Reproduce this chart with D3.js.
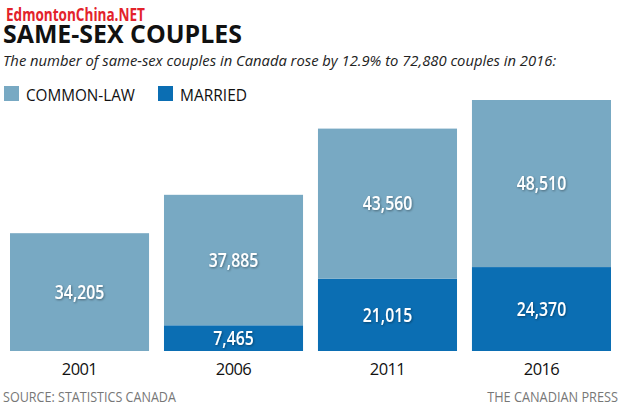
<!DOCTYPE html>
<html><head><meta charset="utf-8">
<script src="https://cdn.jsdelivr.net/npm/d3@7"></script>
<style>
body{margin:0;background:#fff;}
svg{display:block;}
</style></head>
<body>
<svg id="c" width="620" height="417"></svg>
<script>
const years = ["2001","2006","2011","2016"];
const married = [0, 7465, 21015, 24370];
const commonLaw = [34205, 37885, 43560, 48510];
const seriesNames = ["COMMON-LAW","MARRIED"];
const colors = {commonLaw:"#78a9c3", married:"#0b6eb3"};

const svg = d3.select("#c");
const defs = svg.append("defs");
const f = defs.append("filter").attr("id","sh").attr("x","-20%").attr("y","-30%").attr("width","140%").attr("height","160%");
f.append("feDropShadow").attr("dx",1).attr("dy",1).attr("stdDeviation",1.2).attr("flood-color","#000").attr("flood-opacity",0.4);

const FONT = "Open Sans, sans-serif";

function txt(parent, x, y, s, opts){
  const g = parent.append("g").attr("transform",`translate(${x},${y}) scale(${opts.sx||1},1)`);
  const t = g.append("text").text(s)
    .attr("font-family",opts.family||FONT)
    .attr("font-size",opts.size)
    .attr("font-weight",opts.weight||"normal")
    .attr("font-style",opts.style||"normal")
    .attr("fill",opts.fill||"#111")
    .attr("text-anchor",opts.anchor||"start");
  if(opts.filter) t.attr("filter",opts.filter);
  if(opts.fitWidth){
    const w = t.node().getComputedTextLength();
    g.attr("transform",`translate(${x},${y}) scale(${opts.fitWidth / w},1)`);
  }
  return t;
}

const x = d3.scaleBand().domain(years).range([10,611]).paddingInner(0.097).paddingOuter(0);
const y = d3.scaleLinear().domain([0,72880]).range([351,100]);

// watermark
txt(svg,6,21,"EdmontonChina.NET",{size:17,weight:"bold",fill:"#e3222b",fitWidth:139});
// title & subtitle
txt(svg,3,42.5,"SAME-SEX COUPLES",{size:25,weight:"bold",fill:"#111",fitWidth:239});
txt(svg,3,66,"The number of same-sex couples in Canada rose by 12.9% to 72,880 couples in 2016:",
  {size:15,style:"italic",fill:"#222",fitWidth:554});

// legend
const leg = [{n:seriesNames[0],c:colors.commonLaw,x:4,w:109},{n:seriesNames[1],c:colors.married,x:158,w:67}];
leg.forEach(l=>{
  svg.append("rect").attr("x",l.x).attr("y",86).attr("width",15).attr("height",15).attr("fill",l.c);
  txt(svg,l.x+22,100.5,l.n,{size:16,fill:"#111",fitWidth:l.w});
});

const data = years.map((yr,i)=>({yr, m:married[i], c:commonLaw[i]}));
const g = svg.append("g");
g.selectAll("rect.m").data(data.filter(d=>d.m>0)).join("rect").attr("class","m")
  .attr("x",d=>x(d.yr)).attr("width",x.bandwidth())
  .attr("y",d=>y(d.m)).attr("height",d=>y(0)-y(d.m)).attr("fill",colors.married);
g.selectAll("rect.c").data(data).join("rect").attr("class","c")
  .attr("x",d=>x(d.yr)).attr("width",x.bandwidth())
  .attr("y",d=>y(d.m+d.c)).attr("height",d=>y(d.m)-y(d.m+d.c)).attr("fill",colors.commonLaw);

const fmt = d3.format(",");
const lbl = {size:19,weight:600,fill:"#fff",anchor:"middle",sx:0.83,filter:"url(#sh)"};
data.forEach(d=>{
  const cx = x(d.yr)+x.bandwidth()/2;
  txt(g, cx, (y(d.m)+y(d.m+d.c))/2+6.8, fmt(d.c), lbl);
  if(d.m>0) txt(g, cx, (y(0)+y(d.m))/2+6.8, fmt(d.m), lbl);
});

// x axis labels
const ax = svg.append("g").attr("transform","translate(0,351)").call(d3.axisBottom(x).tickSize(0).tickPadding(10));
ax.select(".domain").remove();
ax.selectAll("text").attr("font-family",FONT).attr("font-size",16.5).attr("fill","#111").attr("dy","0.85em")
  .attr("letter-spacing",-0.6);

// footer
txt(svg,3,402,"SOURCE: STATISTICS CANADA",{size:14,fill:"#777",fitWidth:173});
txt(svg,618,402,"THE CANADIAN PRESS",{size:14,fill:"#777",anchor:"end",fitWidth:131});
</script>
</body></html>
